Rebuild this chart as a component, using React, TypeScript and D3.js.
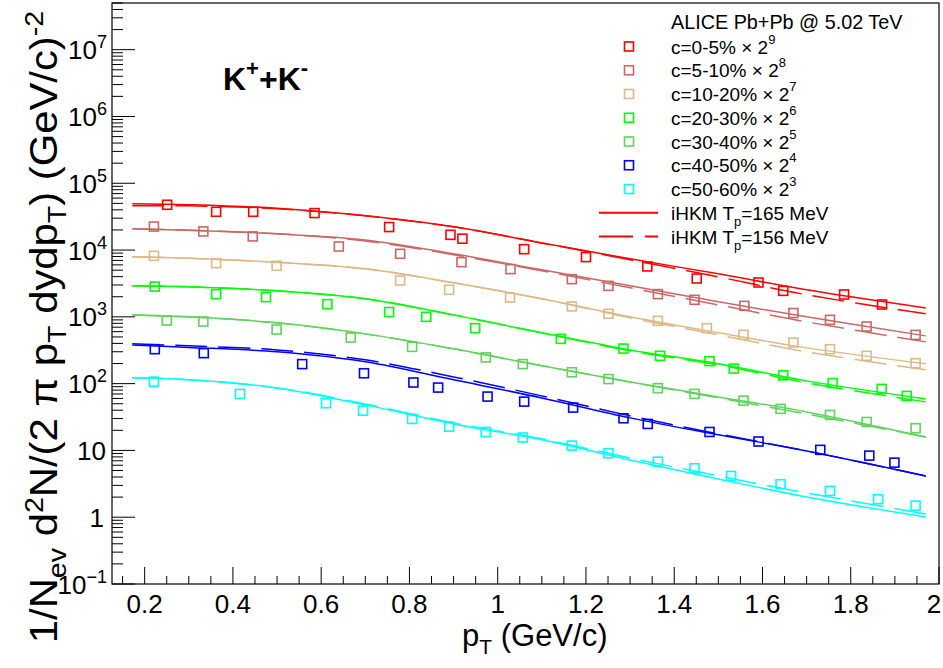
import React from "react";
import * as d3 from "d3";

// ---------- data ----------
const centralities = ["c=0-5%", "c=5-10%", "c=10-20%", "c=20-30%", "c=30-40%", "c=40-50%", "c=50-60%"];
const scalePowers = ["9", "8", "7", "6", "5", "4", "3"];
const seriesColors = ["#ff0000", "#cc6666", "#deb887", "#00ff00", "#5fd35a", "#0000ff", "#00ffff"];

const pt0 = [0.251, 0.362, 0.446, 0.585, 0.754, 0.893, 0.92, 1.06, 1.2, 1.339, 1.451, 1.591, 1.647, 1.785, 1.871];
const val0 = [4.76e4, 3.74e4, 3.74e4, 3.58e4, 2.21e4, 1.69e4, 1.48e4, 1.03e4, 7.84e3, 5.68e3, 3.75e3, 3.27e3, 2.45e3, 2.16e3, 1.53e3];
const pt1 = [0.221, 0.333, 0.445, 0.64, 0.779, 0.918, 1.029, 1.168, 1.251, 1.363, 1.446, 1.559, 1.67, 1.753, 1.836, 1.947];
const val1 = [2.25e4, 1.9e4, 1.6e4, 1.13e4, 8.79e3, 6.59e3, 5.18e3, 3.67e3, 2.91e3, 2.19e3, 1.8e3, 1.46e3, 1.14e3, 902, 716, 537];
const pt2 = [0.221, 0.362, 0.499, 0.779, 0.89, 1.028, 1.168, 1.251, 1.363, 1.474, 1.557, 1.67, 1.753, 1.836, 1.947];
const val2 = [8.2e3, 6.37e3, 5.81e3, 3.5e3, 2.54e3, 1.95e3, 1.43e3, 1.11e3, 871, 677, 537, 412, 328, 261, 202];
const pt3 = [0.223, 0.362, 0.475, 0.614, 0.754, 0.838, 0.949, 1.143, 1.285, 1.368, 1.48, 1.535, 1.647, 1.759, 1.87, 1.927];
const val3 = [2.84e3, 2.19e3, 1.97e3, 1.55e3, 1.18e3, 1.0e3, 677, 468, 335, 261, 217, 168, 133, 102, 83.4, 65.5];
const pt4 = [0.25, 0.333, 0.499, 0.667, 0.806, 0.973, 1.057, 1.168, 1.251, 1.363, 1.446, 1.557, 1.641, 1.753, 1.836, 1.947];
const val4 = [880, 851, 646, 490, 355, 247, 196, 148, 117, 85.5, 70.2, 55.7, 41.9, 34.0, 26.7, 21.5];
const pt5 = [0.223, 0.334, 0.557, 0.697, 0.809, 0.865, 0.977, 1.06, 1.171, 1.285, 1.34, 1.48, 1.591, 1.731, 1.842, 1.899];
const val5 = [328, 286, 196, 143, 104, 87.3, 64.0, 53.8, 43.8, 30.3, 24.9, 18.9, 13.6, 10.2, 8.36, 6.56];
const pt6 = [0.221, 0.416, 0.611, 0.695, 0.806, 0.89, 0.973, 1.057, 1.168, 1.251, 1.363, 1.446, 1.529, 1.641, 1.753, 1.862, 1.947];
const val6 = [107, 70.2, 50.9, 39.4, 29.6, 22.7, 18.9, 15.6, 11.8, 9.08, 6.79, 5.41, 4.15, 3.12, 2.47, 1.86, 1.49];

// iHKM model curves
const curvePt = [0.172, 0.3, 0.5, 0.7, 0.9, 1.1, 1.3, 1.5, 1.7, 1.97];
const solid0 = [4.93e4, 4.76e4, 4.22e4, 3.26e4, 2.23e4, 1.28e4, 7.39e3, 4.41e3, 2.54e3, 1.36e3];
const dash0 = [4.6e4, 4.6e4, 4.15e4, 3.26e4, 2.23e4, 1.28e4, 7.14e3, 3.97e3, 2.14e3, 1.11e3];
const solid1 = [2.08e4, 1.98e4, 1.75e4, 1.42e4, 8.79e3, 5.06e3, 2.91e3, 1.68e3, 1.0e3, 519];
const dash1 = [2.08e4, 1.98e4, 1.75e4, 1.37e4, 8.49e3, 4.89e3, 2.72e3, 1.51e3, 841, 422];
const solid2 = [7.92e3, 7.52e3, 6.55e3, 5.24e3, 3.23e3, 1.86e3, 1.0e3, 576, 343, 198];
const dash2 = [7.92e3, 7.52e3, 6.55e3, 5.24e3, 3.23e3, 1.86e3, 966, 537, 299, 161];
const solid3 = [2.91e3, 2.81e3, 2.45e3, 1.86e3, 1.07e3, 576, 320, 198, 110, 59.0];
const dash3 = [2.91e3, 2.81e3, 2.45e3, 1.86e3, 1.07e3, 576, 310, 191, 103, 53.3];
const solid4 = [1.07e3, 1.0e3, 813, 556, 332, 185, 106, 63.3, 37.7, 15.9];
const dash4 = [1.07e3, 1.0e3, 813, 556, 332, 185, 106, 61.1, 35.2, 15.9];
const solid5 = [380, 349, 299, 212, 114, 61.1, 30.7, 17.1, 9.83, 4.15];
const dash5 = [394, 368, 320, 227, 126, 65.5, 32.9, 17.7, 9.83, 4.15];
const solid6 = [122, 114, 86.3, 48.1, 24.9, 14.4, 7.21, 3.74, 2.01, 1.01];
const dash6 = [122, 114, 86.3, 49.7, 25.8, 14.9, 7.72, 4.15, 2.31, 1.12];

const xTicks = [0.2, 0.4, 0.6, 0.8, 1, 1.2, 1.4, 1.6, 1.8, 2];
const xTickLabels = ["0.2", "0.4", "0.6", "0.8", "1", "1.2", "1.4", "1.6", "1.8", "2"];
const yDecades = [-1, 0, 1, 2, 3, 4, 5, 6, 7];

const modelLabels = ["165", "156"];

// ---------- layout ----------
const W = 943;
const H = 668;
const FONT = "'Liberation Sans', Arial, Helvetica, sans-serif";

const ptSets = [pt0, pt1, pt2, pt3, pt4, pt5, pt6];
const valSets = [val0, val1, val2, val3, val4, val5, val6];
const solidSets = [solid0, solid1, solid2, solid3, solid4, solid5, solid6];
const dashSets = [dash0, dash1, dash2, dash3, dash4, dash5, dash6];

export default function App() {
  const x = d3.scaleLinear().domain([0.126, 2.0]).range([112, 939]);
  const y = d3.scaleLog().domain([0.1, 5e7]).range([584, 3]);
  const [x0, x1] = x.range();
  const [yb, yt] = y.range();

  const line = d3
    .line<[number, number]>()
    .x((d) => x(d[0]))
    .y((d) => y(d[1]))
    .curve(d3.curveCatmullRom.alpha(0.5));

  const xMinor = d3.range(0.15, 2.0001, 0.05).filter((v) => Math.abs(v / 0.2 - Math.round(v / 0.2)) > 1e-6);
  const yMinor: number[] = [];
  for (let d = -1; d <= 7; d++) {
    for (let k = 2; k <= 9; k++) {
      const v = k * Math.pow(10, d);
      if (v <= 5e7) yMinor.push(v);
    }
  }

  const legendRow = (i: number) => 46.5 + 23.75 * i;

  return (
    <svg
      width={W}
      height={H}
      style={{ position: "absolute", left: 0, top: 0, background: "#fff" }}
      fontFamily={FONT}
    >
      <rect x={0} y={0} width={W} height={H} fill="#fff" />

      {/* model curves */}
      {solidSets.map((s, i) => (
        <path
          key={"s" + i}
          d={line(curvePt.map((p, j) => [p, s[j]] as [number, number])) || ""}
          fill="none"
          stroke={seriesColors[i]}
          strokeWidth={1.5}
        />
      ))}
      {dashSets.map((s, i) => (
        <path
          key={"d" + i}
          d={line(curvePt.map((p, j) => [p, s[j]] as [number, number])) || ""}
          fill="none"
          stroke={seriesColors[i]}
          strokeWidth={1.5}
          strokeDasharray="32,11"
        />
      ))}

      {/* data points */}
      {ptSets.map((pts, i) =>
        pts.map((p, j) => (
          <rect
            key={"m" + i + "-" + j}
            x={x(p) - 4.5}
            y={y(valSets[i][j]) - 4.5}
            width={9}
            height={9}
            fill="none"
            stroke={seriesColors[i]}
            strokeWidth={1.6}
          />
        ))
      )}

      {/* frame */}
      <rect x={x0} y={yt} width={x1 - x0} height={yb - yt} fill="none" stroke="#000" strokeWidth={1.2} />

      {/* x ticks */}
      {xTicks.map((t) => (
        <line key={"xt" + t} x1={x(t)} x2={x(t)} y1={yb} y2={yb - 17} stroke="#000" strokeWidth={1} />
      ))}
      {xMinor.map((t) => (
        <line key={"xm" + t} x1={x(t)} x2={x(t)} y1={yb} y2={yb - 8} stroke="#000" strokeWidth={1} />
      ))}
      {xTicks.map((t, i) => (
        <text key={"xl" + t} x={Math.min(x(t), 934)} y={613} fontSize={26} textAnchor="middle">
          {xTickLabels[i]}
        </text>
      ))}

      {/* y ticks */}
      {yDecades.map((d) => (
        <line
          key={"yt" + d}
          x1={x0}
          x2={x0 + 23}
          y1={y(Math.pow(10, d))}
          y2={y(Math.pow(10, d))}
          stroke="#000"
          strokeWidth={1}
        />
      ))}
      {yMinor.map((v) => (
        <line key={"ym" + v} x1={x0} x2={x0 + 11} y1={y(v)} y2={y(v)} stroke="#000" strokeWidth={1} />
      ))}
      {yDecades.map((d) => {
        const yy = y(Math.pow(10, d)) + 9.5;
        if (d === 0)
          return (
            <text key={"yl" + d} x={104} y={yy} fontSize={26} textAnchor="end">
              1
            </text>
          );
        if (d === 1)
          return (
            <text key={"yl" + d} x={106} y={yy} fontSize={26} textAnchor="end">
              10
            </text>
          );
        return (
          <text key={"yl" + d} x={107} y={yy} fontSize={26} textAnchor="end">
            10
            <tspan dy={-11} fontSize={18}>
              {d < 0 ? "\u2212" + Math.abs(d) : String(d)}
            </tspan>
          </text>
        );
      })}

      {/* axis titles */}
      <text x={462} y={646} fontSize={31}>
        p
        <tspan dy={8} fontSize={21}>
          T
        </tspan>
        <tspan dy={-8}> (GeV/c)</tspan>
      </text>
      <text transform="translate(57,327) rotate(-90) scale(1.1,1)" fontSize={38} textAnchor="middle">
        1/N
        <tspan dy={9} fontSize={26}>
          ev
        </tspan>
        <tspan dy={-9}> d</tspan>
        <tspan dy={-14} fontSize={26}>
          2
        </tspan>
        <tspan dy={14}>N/(2 π p</tspan>
        <tspan dy={9} fontSize={26}>
          T
        </tspan>
        <tspan dy={-9}> dydp</tspan>
        <tspan dy={9} fontSize={26}>
          T
        </tspan>
        <tspan dy={-9}>) (GeV/c)</tspan>
        <tspan dy={-14} fontSize={26}>
          -2
        </tspan>
      </text>

      {/* K+K- label */}
      <text x={223} y={90} fontSize={32} fontWeight="bold">
        K
        <tspan dy={-14} fontSize={22}>
          +
        </tspan>
        <tspan dy={14}>+K</tspan>
        <tspan dy={-15} fontSize={22}>
          -
        </tspan>
      </text>

      {/* legend */}
      <text x={671} y={29} fontSize={19.8}>
        ALICE Pb+Pb @ 5.02 TeV
      </text>
      {centralities.map((c, i) => (
        <g key={"lg" + i}>
          <rect
            x={629 - 4.5}
            y={legendRow(i) - 4.5}
            width={9}
            height={9}
            fill="none"
            stroke={seriesColors[i]}
            strokeWidth={1.6}
          />
          <text x={671} y={legendRow(i) + 7} fontSize={19}>
            {c} × 2
            <tspan dy={-10} fontSize={13}>
              {scalePowers[i]}
            </tspan>
          </text>
        </g>
      ))}
      {modelLabels.map((m, k) => {
        const ry = legendRow(7 + k);
        return (
          <g key={"ml" + k}>
            <line
              x1={599}
              x2={658}
              y1={ry}
              y2={ry}
              stroke="#ff0000"
              strokeWidth={1.8}
              strokeDasharray={k === 1 ? "34,12" : undefined}
            />
            <text x={671} y={ry + 7} fontSize={19}>
              iHKM T
              <tspan dy={6} fontSize={13}>
                p
              </tspan>
              <tspan dy={-6}>={m} MeV</tspan>
            </text>
          </g>
        );
      })}
    </svg>
  );
}
